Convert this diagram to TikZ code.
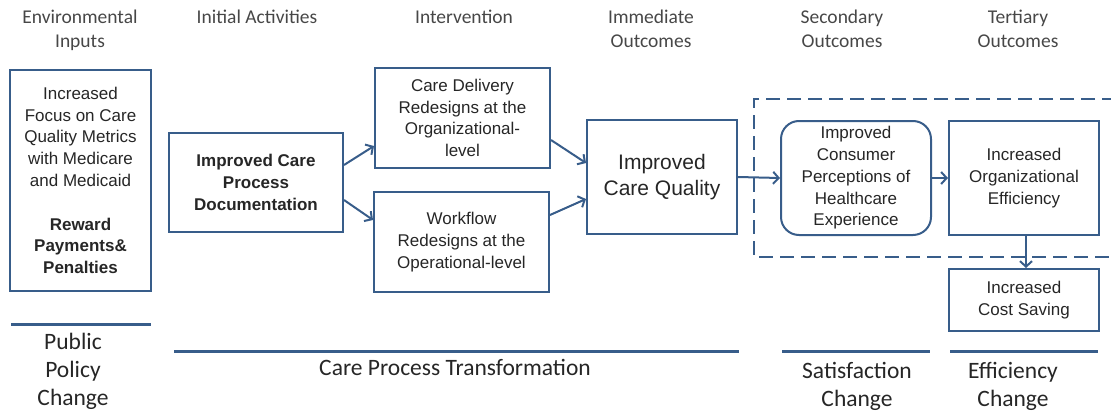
\documentclass[tikz,border=0pt]{standalone}
\usepackage{fontspec}
\setmainfont{Liberation Sans}
\newfontfamily\calibri{Carlito}
\usetikzlibrary{arrows.meta}
\definecolor{frameblue}{HTML}{385D8A}
\definecolor{inktext}{HTML}{262626}
\tikzset{
  box/.style={draw=frameblue, line width=2pt, align=center, inner sep=0pt, text=inktext,
    font=\fontsize{17}{21.8}\selectfont},
  hdr/.style={anchor=north, align=center, inner sep=0pt, text=inktext!85,
    font=\calibri\fontsize{19.5}{24}\selectfont},
  lbl/.style={anchor=north, align=center, inner sep=0pt, text=inktext,
    font=\calibri\fontsize{23.5}{28}\selectfont},
  arr/.style={-{Straight Barb[length=5.5pt,width=12pt]}, draw=frameblue, line width=2pt},
  rule/.style={draw=frameblue, line width=3pt}
}

\begin{document}
\begin{tikzpicture}[x=1pt, y=-1pt]
  \useasboundingbox (0,0) rectangle (1111,415);
  % column headings
  \node[hdr] (hEnv)  at (80,10)   {Environmental\\Inputs};
  \node[hdr] (hInit) at (257,10)  {Initial Activities};
  \node[hdr] (hInt)  at (464,10)  {Intervention};
  \node[hdr] (hImm)  at (651,10)  {Immediate\\Outcomes};
  \node[hdr] (hSec)  at (842,10)  {Secondary\\Outcomes};
  \node[hdr] (hTer)  at (1018,10) {Tertiary\\Outcomes};

  % boxes
  \node[box, minimum width=141pt, minimum height=221pt] (env) at (80.5,180.5)
    {Increased\\Focus on Care\\Quality Metrics\\with Medicare\\and Medicaid\\[21.8pt]
     \textbf{Reward}\\\textbf{Payments\&}\\\textbf{Penalties}};
  \node[box, minimum width=174pt, minimum height=99pt] (doc) at (256,182.5)
    {\textbf{Improved Care}\\\textbf{Process}\\\textbf{Documentation}};
  \node[box, minimum width=175pt, minimum height=100pt] (deliv) at (462.5,118)
    {Care Delivery\\Redesigns at the\\Organizational-\\level};
  \node[box, minimum width=175pt, minimum height=100pt] (work) at (461.5,242)
    {Workflow\\Redesigns at the\\Operational-level};
  \node[box, minimum width=150pt, minimum height=114pt,
        font=\fontsize{21}{25.5}\selectfont] (qual) at (662,177)
    {Improved\\Care Quality};
  \node[box, rounded corners=18pt, minimum width=150pt, minimum height=114pt] (cons) at (856,178)
    {Improved\\Consumer\\Perceptions of\\Healthcare\\Experience};
  \node[box, minimum width=150pt, minimum height=114pt] (org) at (1024,178)
    {Increased\\Organizational\\Efficiency};
  \node[box, minimum width=150pt, minimum height=62pt] (cost) at (1024,300)
    {Increased\\Cost Saving};

  % dashed frame round the later outcomes
  \draw[frameblue, line width=2.5pt, dash pattern=on 14pt off 7pt] (1116,99) -- (754,99) -- (754,257) -- (1116,257);

  % arrows
  \draw[arr] ([yshift=17.5pt]doc.east) -- ([yshift=-28pt]deliv.west);
  \draw[arr] ([yshift=-17.5pt]doc.east) -- ([yshift=22pt]work.west);
  \draw[arr] ([yshift=-22pt]deliv.east) -- ([yshift=14pt]qual.west);
  \draw[arr] ([yshift=27pt]work.east) -- ([yshift=-22pt]qual.west);
  \draw[arr] (qual.east) -- (cons.west);
  \draw[arr] (cons.east) -- (org.west);
  \draw[arr] ([xshift=2pt]org.south) -- ([xshift=2pt]cost.north);

  % bottom rules and change labels
  \draw[rule] (11,324) -- (151,324);
  \draw[rule] (174,351) -- (739,351);
  \draw[rule] (782,351) -- (930,351);
  \draw[rule] (950,351) -- (1098,351);
  \node[lbl] (pub) at (73,333)   {Public\\Policy\\Change};
  \node[lbl] (cpt) at (455,359)  {Care Process Transformation};
  \node[lbl] (sat) at (857,362)  {Satisfaction\\Change};
  \node[lbl] (eff) at (1013,362) {Efficiency\\Change};
\end{tikzpicture}
\end{document}
